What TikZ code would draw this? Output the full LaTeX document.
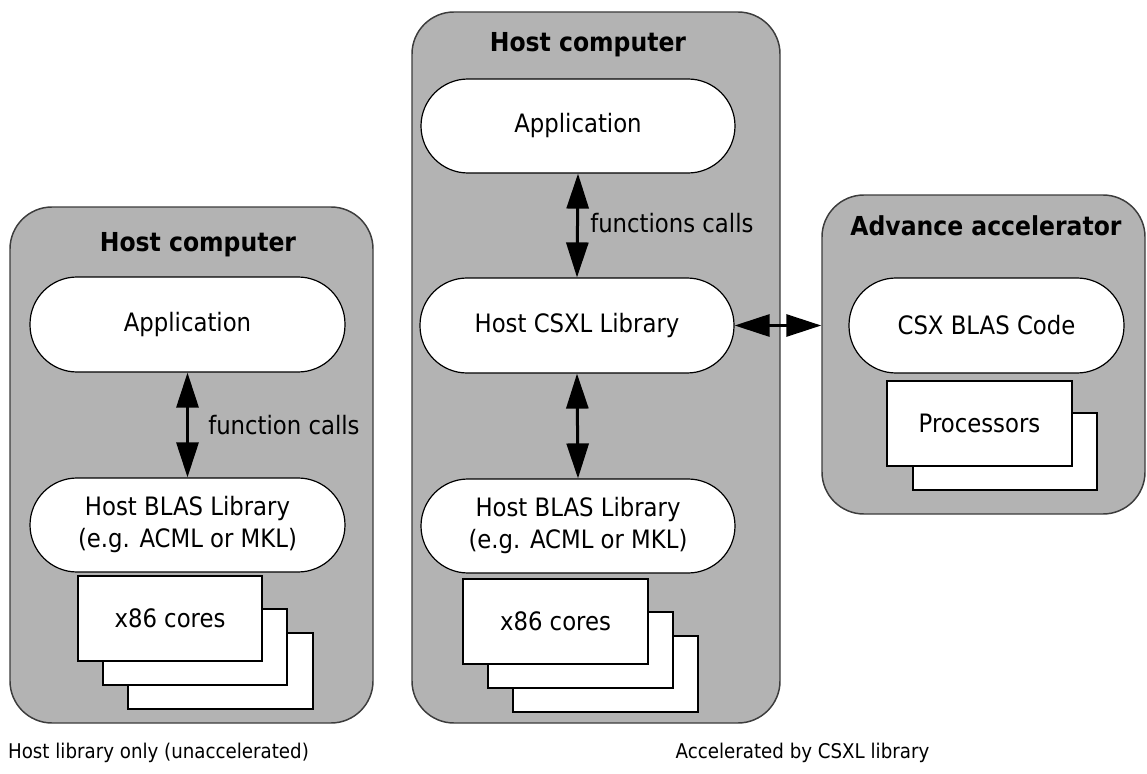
\documentclass[tikz,border=0pt]{standalone}
\usepackage{fontspec}
\setmainfont{DejaVu Sans Condensed}
\usetikzlibrary{arrows.meta}
\newdimen\upx \upx=0.75pt
\definecolor{boxgray}{RGB}{179,179,179}
\definecolor{edgegray}{RGB}{60,60,60}
\begin{document}
\begin{tikzpicture}[x=0.75pt,y=-0.75pt,
  container/.style={draw=edgegray, line width=1.1pt, fill=boxgray, rounded corners=31.5pt, inner sep=0},
  pill/.style={draw=black, line width=0.9pt, fill=white, rounded corners=35.3pt, inner sep=0, align=center, font=\fontsize{19}{24}\selectfont},
  corebox/.style={draw=black, line width=1.5pt, fill=white, inner sep=0, font=\fontsize{19}{24}\selectfont},
  boxtitle/.style={font=\bfseries\fontsize{19.6}{23}\selectfont, inner sep=0},
  calltext/.style={font=\fontsize{19}{23}\selectfont, inner sep=0, anchor=west},
  captext/.style={font=\fontsize{15.2}{19}\selectfont, inner sep=0},
  dbl/.style={{Triangle[width=16.5pt,length=26.25pt]}-{Triangle[width=16.5pt,length=26.25pt]}, line width=2.25pt}
]
\fill[white] (0,0) rectangle (1147,774);
\useasboundingbox (0,0) rectangle (1147,774);

% containers
\node[container, minimum width=363\upx, minimum height=516\upx] (L) at (191.5,465) {};
\node[container, minimum width=368\upx, minimum height=711\upx] (M) at (596,367.5) {};
\node[container, minimum width=323\upx, minimum height=319\upx] (R) at (983.5,354.5) {};

% titles
\node[boxtitle] (Lt) at (198,245) {Host computer};
\node[boxtitle] (Mt) at (588,45) {Host computer};
\node[boxtitle] (Rt) at (986,226) {Advance accelerator};

% pills
\node[pill, minimum width=315\upx, minimum height=95\upx] (LApp) at (187.5,324.5) {Application};
\node[pill, minimum width=315\upx, minimum height=94\upx] (LBlas) at (187.5,525) {Host BLAS Library\\(e.g. ACML or MKL)};
\node[pill, minimum width=314\upx, minimum height=94\upx] (MApp) at (578,126) {Application};
\node[pill, minimum width=314\upx, minimum height=95\upx] (MCsxl) at (577,325.5) {Host CSXL Library};
\node[pill, minimum width=314\upx, minimum height=94\upx] (MBlas) at (578,526) {Host BLAS Library\\(e.g. ACML or MKL)};
\node[pill, minimum width=275\upx, minimum height=95\upx] (RCode) at (986.5,325.5) {CSX BLAS Code};

% core stacks
\node[corebox, minimum width=185\upx, minimum height=76\upx] (L3) at (220.5,671) {};
\node[corebox, minimum width=184\upx, minimum height=76\upx] (L2) at (195,647) {};
\node[corebox, minimum width=184\upx, minimum height=85\upx] (L1) at (170,618.5) {x86 cores};
\node[corebox, minimum width=185\upx, minimum height=76\upx] (M3) at (605.5,674) {};
\node[corebox, minimum width=185\upx, minimum height=76\upx] (M2) at (580.5,650) {};
\node[corebox, minimum width=185\upx, minimum height=85\upx] (M1) at (555.5,621.5) {x86 cores};
\node[corebox, minimum width=184\upx, minimum height=77\upx] (P2) at (1005,451.5) {};
\node[corebox, minimum width=185\upx, minimum height=85\upx] (P1) at (979.5,423.5) {Processors};

% arrows
\draw[dbl] (LApp.south) -- (LBlas.north);
\draw[dbl] (MApp.south) -- (MCsxl.north);
\draw[dbl] (MCsxl.south) -- (MBlas.north);
\draw[dbl] (MCsxl.east) -- (MCsxl.east -| R.west);

% call labels
\node[calltext] (Lcall) at (208,425) {function calls};
\node[calltext] (Mcall) at (590,223) {functions calls};

% captions
\node[captext] (Lcap) at (158.5,753) {Host library only (unaccelerated)};
\node[captext] (Rcap) at (802.5,753) {Accelerated by CSXL library};
\end{tikzpicture}
\end{document}
